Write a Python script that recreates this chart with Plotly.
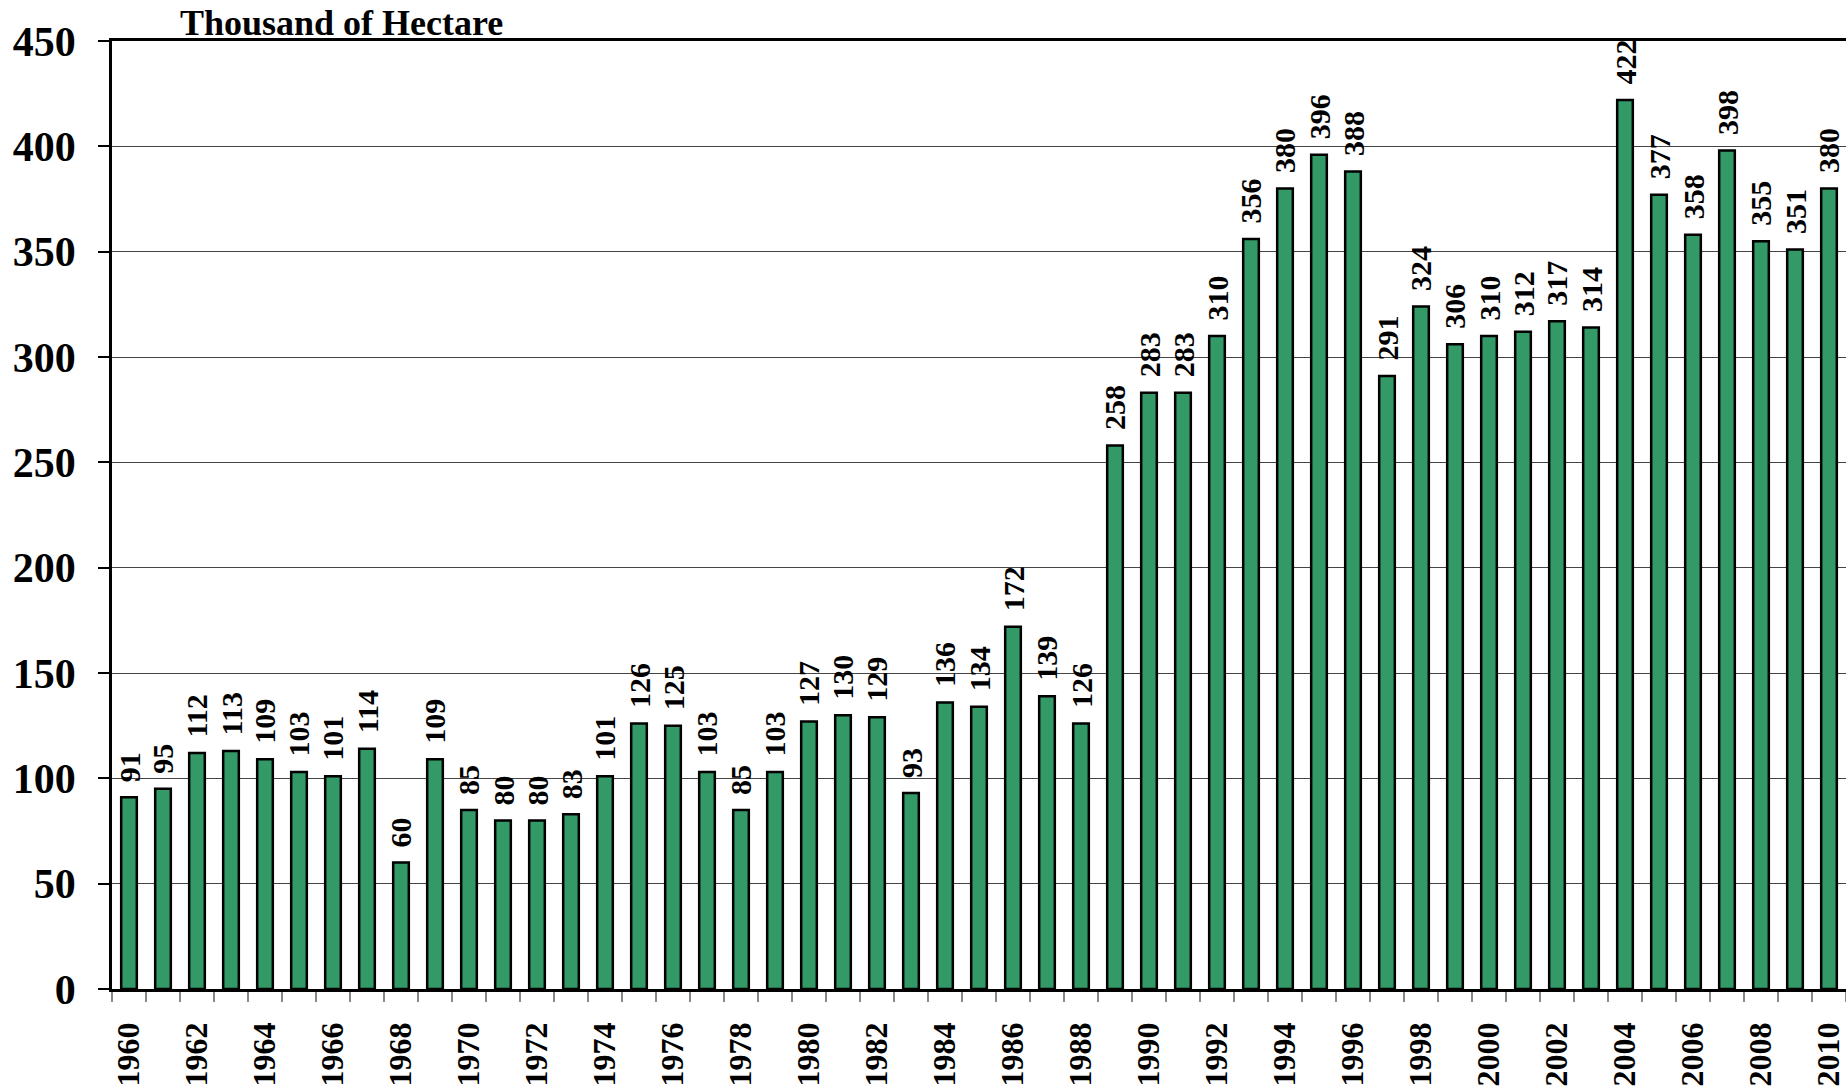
import plotly.graph_objects as go

years = list(range(1960, 2011))
values = [91, 95, 112, 113, 109, 103, 101, 114, 60, 109,
          85, 80, 80, 83, 101, 126, 125, 103, 85, 103,
          127, 130, 129, 93, 136, 134, 172, 139, 126, 258,
          283, 283, 310, 356, 380, 396, 388, 291, 324, 306,
          310, 312, 317, 314, 422, 377, 358, 398, 355, 351, 380]
tick_years = list(range(1960, 2011, 2))
tick_labels = [str(y) for y in tick_years]
y_ticks = list(range(0, 451, 50))
title_text = "Thousand of Hectare"

FONT = "Liberation Serif, Times New Roman, serif"

fig = go.Figure()
fig.add_trace(go.Bar(
    x=years, y=values,
    width=0.46,
    marker=dict(color="#339966", line=dict(color="black", width=2.5)),
    cliponaxis=False,
))

annotations = [dict(
    text=title_text, xref="paper", yref="paper", x=0.038, y=1.0,
    xanchor="left", yanchor="bottom", showarrow=False, yshift=-4,
    font=dict(family=FONT, size=36, color="black", weight="bold"),
)]
for yr, v in zip(years, values):
    annotations.append(dict(
        x=yr, y=v, xref="x", yref="y", text=str(v), textangle=-90,
        xanchor="center", yanchor="bottom", yshift=13, showarrow=False,
        font=dict(family=FONT, size=30, color="black", weight="bold"),
    ))

fig.update_layout(
    width=1846, height=1090,
    margin=dict(l=112, r=0, t=41, b=101),
    plot_bgcolor="white", paper_bgcolor="white",
    showlegend=False,
    annotations=annotations,
)

fig.update_xaxes(
    range=[1959.5, 2010.5],
    tickmode="array", tickvals=tick_years, ticktext=tick_labels,
    tickangle=-90,
    tickfont=dict(family=FONT, size=32, color="black", weight="bold"),
    ticks="", showgrid=False, zeroline=False,
    showline=True, linecolor="black", linewidth=2.5, mirror=True,
    ticklabelstandoff=18,
    ticklabeloverflow="allow",
    minor=dict(tickmode="array", tickvals=[y - 0.5 for y in years] + [2010.5],
               ticks="outside", ticklen=10, tickcolor="#888888", tickwidth=1.5,
               showgrid=False),
)

fig.update_yaxes(
    range=[0, 450],
    tickmode="array", tickvals=y_ticks,
    tickfont=dict(family=FONT, size=42, color="black", weight="bold"),
    ticks="outside", ticklen=11, tickcolor="black", tickwidth=1.5,
    showgrid=True, gridcolor="#444444", gridwidth=1,
    zeroline=False,
    showline=True, linecolor="black", linewidth=2.5,
    ticklabelstandoff=14,
)

fig.write_html(
    "out.html",
    config={"displayModeBar": False},
    post_script="document.body.style.margin='0';document.body.style.overflow='hidden';",
)
